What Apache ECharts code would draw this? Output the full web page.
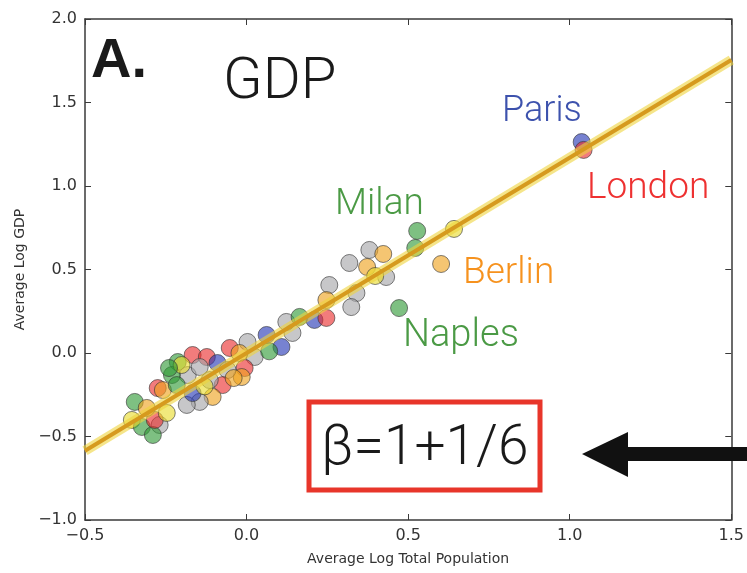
<!DOCTYPE html>
<html>
<head>
<meta charset="utf-8">
<script src="https://cdn.jsdelivr.net/npm/echarts@6/dist/echarts.min.js"></script>
<style>
html,body{margin:0;padding:0;background:#fff;}
#chart{width:747px;height:573px;}
</style>
</head>
<body>
<div id="chart"></div>
<script>
// ---- data ----
const popX = [-0.346,-0.213,-0.167,-0.123,-0.052,0.003,0.062,0.108,0.025,-0.022,
  -0.006,-0.015,-0.090,-0.059,-0.074,-0.114,-0.105,-0.145,-0.185,-0.167,
  -0.182,-0.231,-0.275,-0.259,-0.201,-0.145,-0.216,-0.355,-0.269,-0.324,
  -0.290,-0.284,-0.309,-0.247,0.142,0.123,0.164,0.210,0.247,0.256,
  0.340,0.324,0.247,0.318,0.380,0.423,0.373,0.432,0.398,0.472,
  0.528,0.522,0.642,0.602,1.037,1.043,-0.240,-0.130,-0.040,0.070];
const gdpY = [-0.293,-0.054,-0.012,-0.024,0.030,0.066,0.108,0.036,-0.024,0.000,
  -0.090,-0.144,-0.060,-0.102,-0.192,-0.162,-0.263,-0.293,-0.311,-0.240,
  -0.132,-0.132,-0.210,-0.222,-0.072,-0.084,-0.192,-0.401,-0.431,-0.443,
  -0.491,-0.401,-0.329,-0.359,0.120,0.186,0.216,0.198,0.210,0.407,
  0.359,0.275,0.317,0.539,0.617,0.593,0.515,0.455,0.461,0.269,
  0.731,0.629,0.743,0.533,1.263,1.216,-0.090,-0.200,-0.150,0.010];
const country = ['G','G','R','R','R','K','B','B','K','O',
  'R','O','B','K','R','K','O','K','K','B',
  'K','G','R','O','Y','K','G','Y','K','G',
  'G','R','O','Y','K','K','G','B','R','K',
  'K','K','O','K','K','O','O','K','Y','G',
  'G','G','Y','O','B','R','G','Y','O','G'];
const palette = {G:'#2f9a35', R:'#ea2b2b', B:'#2336b5', K:'#a4a4a8', O:'#efa21c', Y:'#e9dc2c'};
const fitX = [-0.5, 1.5];
const fitY = [-0.585, 1.755];
const xTicks = [-0.5, 0.0, 0.5, 1.0, 1.5];
const yTicks = [-1.0, -0.5, 0.0, 0.5, 1.0, 1.5, 2.0];

const fmt = v => v.toFixed(1).replace('-', '\u2212');
const pts = popX.map((x, i) => ({
  value: [x, gdpY[i]],
  itemStyle: {color: palette[country[i]]}
}));
const fit = fitX.map((x, i) => [x, fitY[i]]);

const axisCommon = () => ({
  axisLine: {onZero: false, lineStyle: {color: '#3a3a3a', width: 1.5}},
  axisTick: {inside: true, length: 6, lineStyle: {color: '#3a3a3a'}},
  splitLine: {show: false}
});
const lightFont = (size) => '300 ' + size + 'px Roboto, "Liberation Sans"';
const chart = echarts.init(document.getElementById('chart'), null, {renderer: 'canvas'});
chart.setOption({
  backgroundColor: '#ffffff',
  animation: false,
  grid: {left: 85, right: 14, top: 19, bottom: 53},
  xAxis: [
    Object.assign({type: 'value', min: xTicks[0], max: xTicks[xTicks.length-1], interval: 0.5,
      name: 'Average Log Total Population', nameLocation: 'middle', nameGap: 32,
      nameTextStyle: {fontFamily: 'DejaVu Sans', fontSize: 14, color: '#333'},
      axisLabel: {formatter: fmt, fontFamily: 'DejaVu Sans', fontSize: 16, color: '#333', margin: 8}}, axisCommon()),
    Object.assign({type: 'value', position: 'top', min: xTicks[0], max: xTicks[xTicks.length-1], interval: 0.5,
      axisLabel: {show: false}}, axisCommon())
  ],
  yAxis: [
    Object.assign({type: 'value', min: yTicks[0], max: yTicks[yTicks.length-1], interval: 0.5,
      name: 'Average Log GDP', nameLocation: 'middle', nameGap: 57,
      nameTextStyle: {fontFamily: 'DejaVu Sans', fontSize: 14, color: '#333'},
      axisLabel: {formatter: fmt, fontFamily: 'DejaVu Sans', fontSize: 16, color: '#333', margin: 8}}, axisCommon()),
    Object.assign({type: 'value', position: 'right', min: yTicks[0], max: yTicks[yTicks.length-1], interval: 0.5,
      axisLabel: {show: false}}, axisCommon())
  ],
  series: [
    {type: 'scatter', data: pts, symbolSize: 17, z: 2,
      itemStyle: {opacity: 0.62, borderColor: '#333', borderWidth: 1}},
    {type: 'line', data: fit, showSymbol: false, symbol: 'none', z: 3,
      lineStyle: {color: 'rgba(238,212,60,0.6)', width: 10}},
    {type: 'line', data: fit, showSymbol: false, symbol: 'none', z: 4,
      lineStyle: {color: '#d69a1e', width: 4}}
  ],
  graphic: [
    {type: 'text', left: 91, top: 34, z: 10, style: {text: 'A.', font: 'bold 56px "Liberation Sans"', fill: '#1a1a1a'}},
    {type: 'text', left: 223, top: 54, z: 10, style: {text: 'GDP', font: lightFont(58), fill: '#1a1a1a'}},
    {type: 'text', left: 502, top: 94, z: 10, style: {text: 'Paris', font: lightFont(36), fill: '#3d52ad'}},
    {type: 'text', left: 587, top: 170, z: 10, style: {text: 'London', font: lightFont(37), fill: '#ee3131'}},
    {type: 'text', left: 335, top: 186, z: 10, style: {text: 'Milan', font: lightFont(37), fill: '#4b9a45'}},
    {type: 'text', left: 463, top: 255, z: 10, style: {text: 'Berlin', font: lightFont(37), fill: '#f6921e'}},
    {type: 'text', left: 403, top: 317, z: 10, style: {text: 'Naples', font: lightFont(38), fill: '#4b9a45'}},
    {type: 'rect', z: 10, shape: {x: 309, y: 402, width: 231, height: 88},
      style: {fill: '#fff', stroke: '#e8352a', lineWidth: 5}},
    {type: 'text', left: 321, top: 423, z: 11, style: {text: '\u03b2=1+1/6', font: lightFont(55), fill: '#1a1a1a'}},
    {type: 'polygon', z: 10, shape: {points: [[582,454],[628,432],[628,447],[747,447],[747,461],[628,461],[628,477]]},
      style: {fill: '#111'}}
  ]
});
</script>
</body>
</html>
